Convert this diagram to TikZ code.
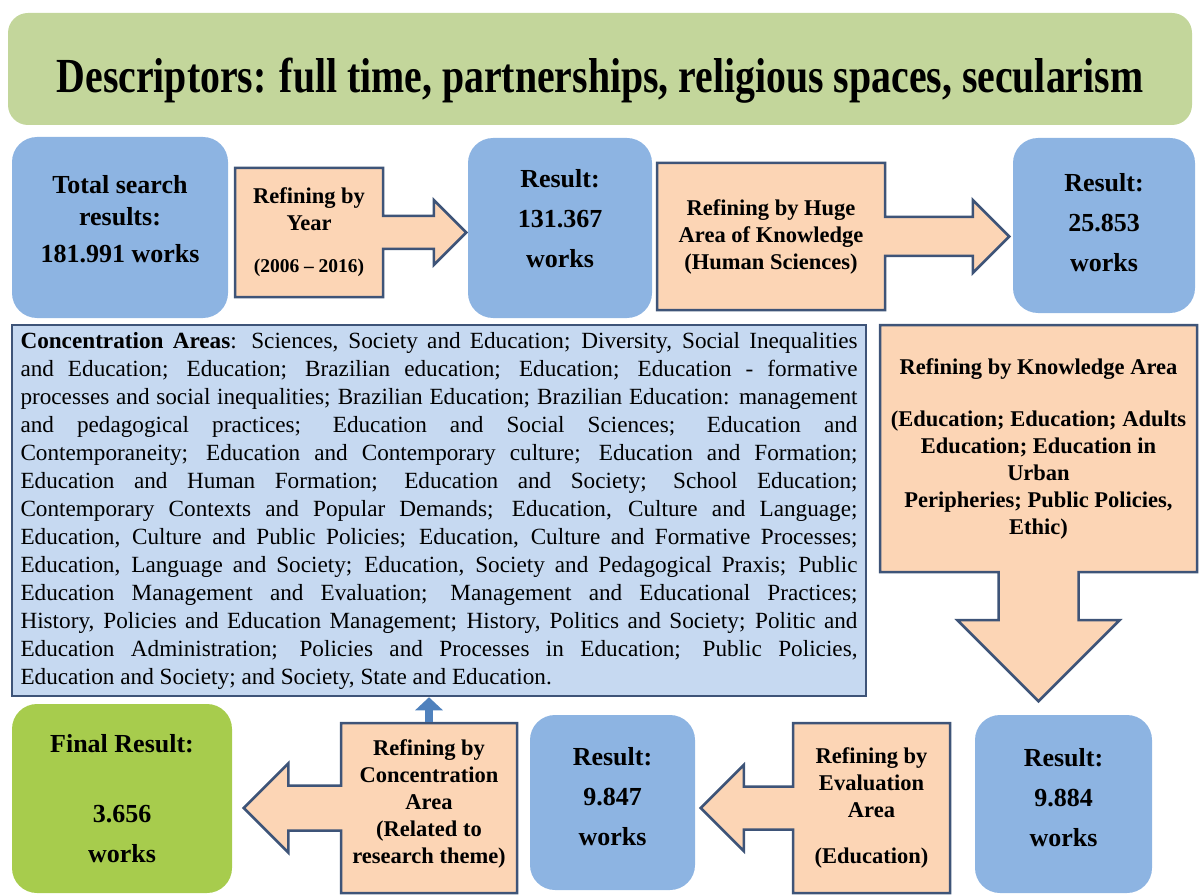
\documentclass[tikz,border=0pt]{standalone}
\usepackage{fontspec}
\setmainfont{Liberation Serif}
\usepackage{graphicx}
\usetikzlibrary{shapes.arrows,arrows.meta}
\definecolor{titlegreen}{RGB}{195,214,155}
\definecolor{finalgreen}{RGB}{167,204,77}
\definecolor{resblue}{RGB}{141,180,226}
\definecolor{areablue}{RGB}{198,217,241}
\definecolor{peach}{RGB}{252,213,181}
\definecolor{edgeblue}{RGB}{62,84,120}
\definecolor{uparrow}{RGB}{79,129,189}
\tikzset{
    resbox/.style={rounded corners=25pt, fill=resblue, align=center, inner sep=0pt,
        font=\fontsize{26}{40}\selectfont\bfseries},
    refbox/.style={shape=arrow box, draw=edgeblue, line width=2.5pt, fill=peach,
        align=center, inner sep=0pt, arrow box tip angle=90, arrow box head indent=0pt,
        font=\fontsize{22.5}{27}\selectfont\bfseries},
    areabox/.style={draw=edgeblue, line width=2.5pt, fill=areablue, align=justify,
        text width=837pt, inner xsep=8.5pt, font=\fontsize{23.2}{28}\selectfont},
    upflow/.style={line width=8pt, draw=uparrow, -{Triangle[width=27pt,length=13pt]}}
}

\begin{document}
\begin{tikzpicture}[x=1pt,y=-1pt]
    \useasboundingbox (0,0) rectangle (1200,896);

    \node (title) [fill=titlegreen, rounded corners=20pt, minimum width=1184pt, minimum height=112pt,
        font=\bfseries] at (600,69)
        {\raisebox{0pt}[58pt]{\resizebox{1086pt}{34.5pt}{Descriptors: full time, partnerships, religious spaces, secularism}}};

    % first row
    \node (total) [resbox, minimum width=216pt, minimum height=181pt] at (120,227.5)
        {Total search\\[-8pt]results:\\[-3pt]181.991 works\\[-22pt]\mbox{}};
    \node (year) [refbox, minimum width=148pt, minimum height=129pt,
        arrow box arrows={east:82pt from border}, arrow box shaft width=33pt,
        arrow box head extend=16pt] at (309,232.5)
        {Refining by\\Year\\[15pt]{\fontsize{19.5}{24}\selectfont(2006 -- 2016)}};
    \node (res1) [resbox, minimum width=184pt, minimum height=180pt] at (560,228)
        {Result:\\131.367\\works\\[-21pt]\mbox{}};
    \node (huge) [refbox, minimum width=228pt, minimum height=147pt,
        arrow box arrows={east:123pt from border}, arrow box shaft width=39pt,
        arrow box head extend=17pt] at (771,236.5)
        {Refining by Huge\\Area of Knowledge\\(Human Sciences)};
    \node (res2) [resbox, minimum width=182pt, minimum height=175pt] at (1104,225.5)
        {Result:\\25.853\\works\\[-34pt]\mbox{}};

    % middle row
    \node (areas) [areabox, minimum height=371pt] at (439,510.5)
        {\textbf{Concentration Areas}: Sciences, Society and Education; Diversity, Social Inequalities\linebreak
        and Education; Education; Brazilian education; Education; Education - formative\linebreak
        processes and social inequalities; Brazilian Education; Brazilian Education: management\linebreak
        and pedagogical practices; Education and Social Sciences; Education and\linebreak
        Contemporaneity; Education and Contemporary culture; Education and Formation;\linebreak
        Education and Human Formation; Education and Society; School Education;\linebreak
        Contemporary Contexts and Popular Demands; Education, Culture and Language;\linebreak
        Education, Culture and Public Policies; Education, Culture and Formative Processes;\linebreak
        Education, Language and Society; Education, Society and Pedagogical Praxis; Public\linebreak
        Education Management and Evaluation; Management and Educational Practices;\linebreak
        History, Policies and Education Management; History, Politics and Society; Politic and\linebreak
        Education Administration; Policies and Processes in Education; Public Policies,\linebreak
        Education and Society; and Society, State and Education.};
    \node (know) [refbox, minimum width=317pt, minimum height=247pt,
        arrow box arrows={south:128pt from border}, arrow box shaft width=80pt,
        arrow box head extend=41pt] at (1038.5,448.5)
        {Refining by Knowledge Area\\[25pt](Education; Education; Adults\\Education; Education in\\Urban\\Peripheries; Public Policies,\\Ethic)};

    % last row
    \node (final) [resbox, fill=finalgreen, minimum width=220pt, minimum height=189pt] at (122,798.5)
        {Final Result:\\[30pt]3.656\\works};
    \node (conc) [refbox, minimum width=176pt, minimum height=170pt,
        arrow box arrows={west:96pt from border}, arrow box shaft width=45pt,
        arrow box head extend=22pt] at (429,808)
        {Refining by\\Concentration\\Area\\(Related to\\research theme)\\[-15pt]\mbox{}};
    \node (res3) [resbox, minimum width=165pt, minimum height=175pt] at (612.5,802.5)
        {Result:\\9.847\\works\\[-28pt]\mbox{}};
    \node (eval) [refbox, minimum width=157pt, minimum height=170pt,
        arrow box arrows={west:91pt from border}, arrow box shaft width=43pt,
        arrow box head extend=21.5pt] at (871.5,808)
        {Refining by\\Evaluation\\Area\\[19pt](Education)};
    \node (res4) [resbox, minimum width=177pt, minimum height=178pt] at (1063.5,804)
        {Result:\\9.884\\works\\[-26pt]\mbox{}};

    \draw[upflow] (conc.north) -- (conc.north |- areas.south);
\end{tikzpicture}
\end{document}
